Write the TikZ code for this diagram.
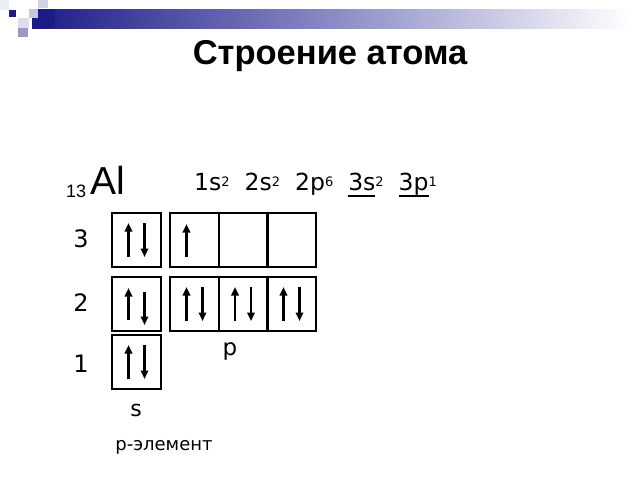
\documentclass[tikz,border=0pt]{standalone}
\usepackage{fontspec}
\setmainfont{DejaVu Sans}
\newfontfamily\arialf{Liberation Sans}
\usetikzlibrary{arrows.meta,calc}
\definecolor{navy}{HTML}{1C1C86}
\definecolor{midblue}{HTML}{8A8AC4}
\newcommand\sups[1]{\raisebox{3.5pt}{\fontsize{13}{13}\selectfont #1}}
\newcommand\ulx[1]{\mbox{\setbox0\hbox{#1}\rlap{\rule[-6.5pt]{\wd0}{1.4pt}}\box0}}
\newcommand\tgap{\hspace*{15pt}}
\tikzset{
  orb/.style={draw=black, line width=2pt, minimum width=49pt, minimum height=54pt, inner sep=0pt},
  spin/.style={line width=2.2pt, -{Triangle[length=8.5pt,width=7.5pt]}},
  lbl/.style={inner sep=0pt, font=\fontsize{24}{26}\selectfont},
}
\begin{document}
\begin{tikzpicture}[x=1pt,y=-1pt]
\useasboundingbox (0,0) rectangle (640,480);
% header decoration
\fill[white] (0,0) rectangle (640,480);
\shade[left color=navy, right color=white, middle color=midblue, shading angle=90] (32,9) rectangle (630,28);
\fill[navy] (32,9) rectangle (55,28);
\fill[navy!8] (0,0) rectangle (9,10);
\fill[navy] (9,10) rectangle (16,17);
\fill[navy!25] (29,9) rectangle (38,18);
\fill[navy!20] (38,0) rectangle (48,8);
\fill[navy!15] (18,18) rectangle (29,28);
\fill[navy!45] (18,28) rectangle (28,37);
% title
\node[inner sep=0pt, font=\arialf\bfseries\fontsize{34.5}{37}\selectfont] (title) at (330,56) {Строение атома};
% element
\node[anchor=base west, inner sep=0pt, font=\arialf\fontsize{18}{20}\selectfont] (z) at (66,197) {13};
\node[anchor=base west, inner sep=0pt, font=\arialf\fontsize{39}{40}\selectfont] (al) at (90,194) {Al};
\node[anchor=base west, inner sep=0pt, font=\fontsize{23.5}{26}\selectfont] (cfg) at (194,190)
  {1s\sups{2}\tgap 2s\sups{2}\tgap 2p\sups{6}\tgap \ulx{3s}\sups{2}\tgap \ulx{3p}\sups{1}};
% level labels
\node[lbl] (l3) at (81,239) {3};
\node[lbl] (l2) at (81,303) {2};
\node[lbl] (l1) at (81,364) {1};
% orbitals
\node[orb] (s3) at (136.5,240) {};
\node[orb] (p3a) at (194.5,240) {};
\node[orb] (p3b) at (243,240) {};
\node[orb] (p3c) at (291.5,240) {};
\node[orb] (s2) at (136.5,304) {};
\node[orb] (p2a) at (194.5,304) {};
\node[orb] (p2b) at (243,304) {};
\node[orb] (p2c) at (291.5,304) {};
\node[orb] (s1) at (136.5,362) {};
% electrons
\foreach \b in {s3,p2a,p2b,p2c,s1}{
  \draw[spin] ($(\b)+(-8,17)$) -- ($(\b)+(-8,-17)$);
  \draw[spin] ($(\b)+(8,-17)$) -- ($(\b)+(8,17)$);
}
\draw[spin] ($(p3a)+(-8,17)$) -- ($(p3a)+(-8,-16)$);
\draw[spin] ($(s2)+(-8,16)$) -- ($(s2)+(-8,-16)$);
\draw[spin] ($(s2)+(8,-12)$) -- ($(s2)+(8,21)$);
% sublevel labels
\node[inner sep=0pt, font=\fontsize{23}{25}\selectfont] (pl) at (230,351) {p};
\node[inner sep=0pt, font=\fontsize{22}{24}\selectfont] (sl) at (136,410) {s};
\node[inner sep=0pt, font=\fontsize{18}{20}\selectfont] (el) at (164,447) {р-элемент};
\end{tikzpicture}
\end{document}
